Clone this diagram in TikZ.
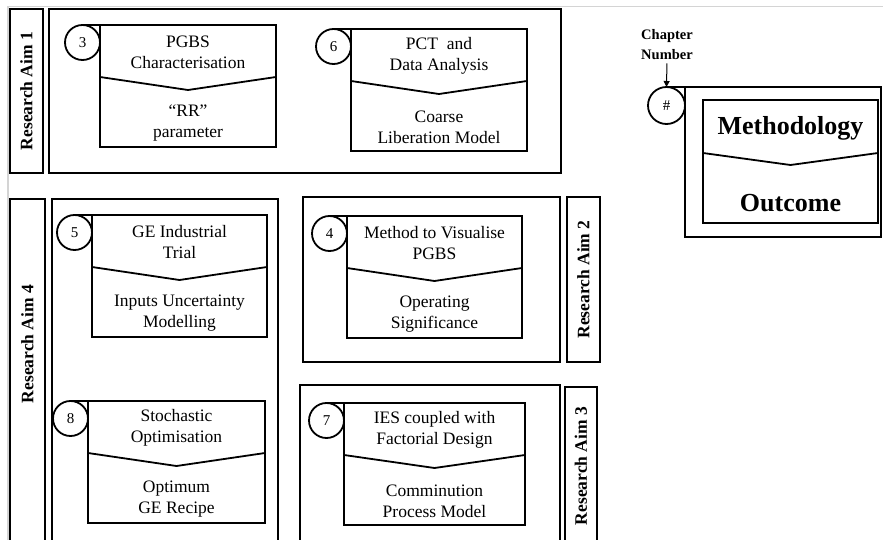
\documentclass[tikz,border=0pt]{standalone}
\usepackage{fontspec}
\setmainfont{Liberation Serif}
\usetikzlibrary{calc,arrows.meta}

\tikzset{
  frame/.style={draw=black, line width=1.8pt, rectangle, inner sep=0pt, outer sep=0pt},
  chapbox/.style={frame, fill=white, minimum height=122pt},
  numcircle/.style={draw=black, line width=1.8pt, circle, fill=white, inner sep=0pt, outer sep=0pt,
    minimum size=35pt, font=\fontsize{15}{18}\selectfont},
  txt/.style={inner sep=0pt, align=center, font=\fontsize{17.5}{21}\selectfont},
  aimtxt/.style={inner sep=0pt, rotate=90, font=\bfseries\fontsize{17.5}{21}\selectfont},
  divider/.style={line width=1.8pt, line join=miter},
  rule/.style={draw=black!17, line width=1.6pt},
}

% One chapter block: #1 name, #2 chapter number, #3 left, #4 top, #5 width,
% #6 methodology text, #7 outcome text
\newcommand\chapblock[7]{%
  \node[chapbox, minimum width=#5pt, anchor=north west] (#1) at (#3,#4) {};
  \node[numcircle, anchor=north] (#1n) at ([xshift=-17.5pt]#1.north west) {#2};
  \draw[line width=1.8pt] (#1n.north) -- (#1.north west);
  \draw[divider] ($(#1.north west)+(0,52)$) -- ($(#1.north)+(0,65)$) -- ($(#1.north east)+(0,52)$);
  \node[txt] (#1t) at ($(#1.north)+(0,27)$) {#6};
  \node[txt] (#1b) at ($(#1.north)+(0,98)$) {#7};
}

\begin{document}
\begin{tikzpicture}[x=1pt, y=-1pt]
  \clip (0,0) rectangle (883,540);

  % page rules
  \draw[rule] (8,6.5) -- (883,6.5);
  \draw[rule] (8,6.5) -- (8,540);

  % Research Aim 1
  \node[frame, minimum width=33pt, minimum height=164pt, anchor=north west] (aim1lab) at (10,9) {};
  \node[aimtxt] (aim1t) at (aim1lab.center) {Research Aim 1};
  \node[frame, minimum width=512pt, minimum height=164pt, anchor=north west] (aim1) at (49,9) {};

  % Research Aim 4
  \node[frame, minimum width=35pt, minimum height=361pt, anchor=north west] (aim4lab) at (10,199) {};
  \node[aimtxt] (aim4t) at (27.5,344) {Research Aim 4};
  \node[frame, minimum width=226pt, minimum height=361pt, anchor=north west] (aim4) at (52,199) {};

  % Research Aim 2
  \node[frame, minimum width=257pt, minimum height=165pt, anchor=north west] (aim2) at (303,197) {};
  \node[frame, minimum width=33pt, minimum height=165pt, anchor=north west] (aim2lab) at (567,197) {};
  \node[aimtxt] (aim2t) at (aim2lab.center) {Research Aim 2};

  % Research Aim 3
  \node[frame, minimum width=260pt, minimum height=175pt, anchor=north west] (aim3) at (300,385) {};
  \node[frame, minimum width=32pt, minimum height=173pt, anchor=north west] (aim3lab) at (565,387) {};
  \node[aimtxt] (aim3t) at (581,466) {Research Aim 3};

  % chapters
  \chapblock{c3}{3}{100}{25}{176}{PGBS\\Characterisation}{“RR”\\parameter}
  \chapblock{c6}{6}{351}{29}{176}{PCT~~and\\Data Analysis}{Coarse\\Liberation Model}
  \chapblock{c5}{5}{92}{215}{175}{GE Industrial\\Trial}{Inputs Uncertainty\\Modelling}
  \chapblock{c4}{4}{347}{216}{175}{Method to Visualise\\PGBS}{Operating\\Significance}
  \chapblock{c8}{8}{88}{401}{177}{Stochastic\\Optimisation}{Optimum\\GE Recipe}
  \chapblock{c7}{7}{344}{403}{181}{IES coupled with\\Factorial Design}{Comminution\\Process Model}

  % key
  \node[frame, fill=white, minimum width=196pt, minimum height=150pt, anchor=north west] (leg) at (685,87) {};
  \node[numcircle, minimum size=37pt, anchor=north] (legn) at ([xshift=-18.5pt]leg.north west) {\#};
  \draw[line width=1.8pt] (legn.north) -- (leg.north west);
  \node[frame, minimum width=175pt, minimum height=123pt, anchor=north west] (legin) at (703,100) {};
  \draw[divider] ($(legin.north west)+(0,53)$) -- ($(legin.north)+(0,65)$) -- ($(legin.north east)+(0,53)$);
  \node[txt, font=\bfseries\fontsize{26}{30}\selectfont] (legt) at ($(legin.north)+(0,28)$) {Methodology};
  \node[txt, font=\bfseries\fontsize{26}{30}\selectfont] (legb) at ($(legin.north)+(0,103)$) {Outcome};
  \node[txt, font=\bfseries\fontsize{14.5}{20}\selectfont] (chapnum) at (667,45) {Chapter\\Number};
  \draw[line width=1pt, -{Triangle[length=6pt, width=6pt]}, shorten <=3pt] (chapnum.south) -- (legn.north);
\end{tikzpicture}
\end{document}
